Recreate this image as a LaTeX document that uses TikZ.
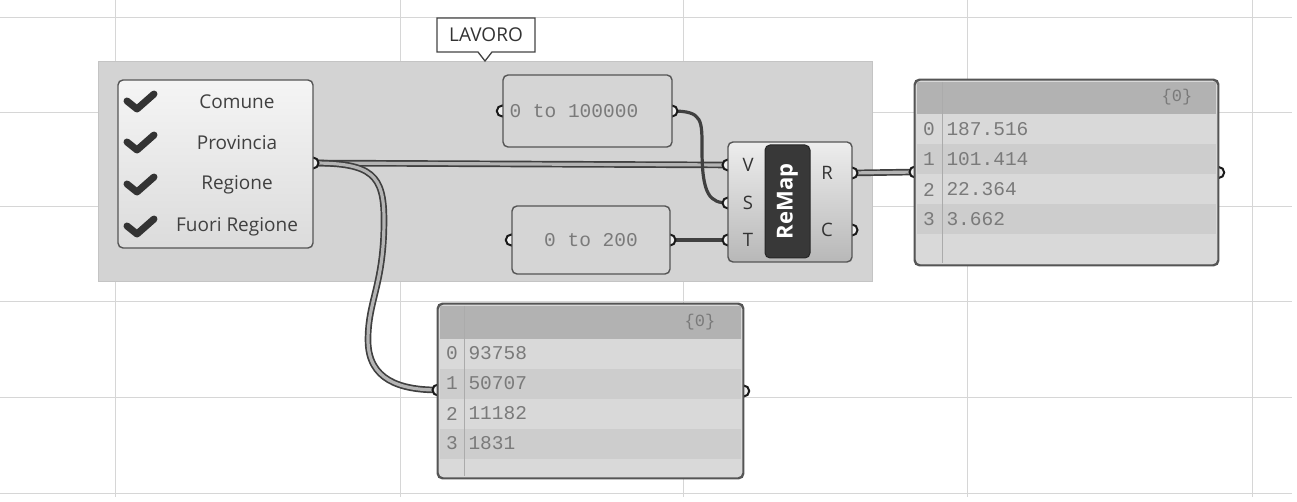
\documentclass[tikz,border=0pt]{standalone}
\usepackage{fontspec}
\setmainfont{Open Sans}
\newfontfamily\monof{Liberation Mono}
\usetikzlibrary{backgrounds}
\definecolor{gridc}{HTML}{D6D6D6}
\definecolor{groupc}{HTML}{D3D3D3}
\definecolor{groupb}{HTML}{C4C4C4}
\definecolor{edgec}{HTML}{555555}
\definecolor{wirec}{HTML}{404040}
\definecolor{wirein}{HTML}{B4B4B4}
\definecolor{paneltxt}{HTML}{7A7A7A}
\definecolor{hdrc}{HTML}{B2B2B2}
\definecolor{rowa}{HTML}{D9D9D9}
\definecolor{rowb}{HTML}{CDCDCD}
\definecolor{checkc}{HTML}{333333}
\tikzset{
  gridline/.style={gridc, line width=1pt},
  gbox/.style={draw=edgec, line width=1.4pt, rounded corners=5pt, inner sep=0pt},
  slider/.style={gbox, fill=groupc!95!white},
  panelbox/.style={gbox, fill=rowa},
  checkbox/.style={gbox, top color=white!96!black, bottom color=white!86!black},
  compbox/.style={gbox, top color=white!93!black, bottom color=white!72!black},
  corebox/.style={draw=black!85, fill=black!78, rounded corners=5pt, line width=1pt, inner sep=0pt},
  wire/.style={draw=wirec, line width=1.7pt, double=wirein, double distance=3.2pt},
  swire/.style={draw=wirec, line width=3.2pt},
  grip/.style={draw=black!90, fill=white!94!black, line width=2pt},
  itemtxt/.style={font=\fontsize{19}{19}\selectfont, text=black!75},
  porttxt/.style={font=\fontsize{18.5}{18.5}\selectfont, text=black!80},
  monotxt/.style={font=\monof\fontsize{19.5}{19.5}\selectfont, text=paneltxt},
  hdrtxt/.style={font=\monof\fontsize{17}{17}\selectfont, text=paneltxt},
  chk/.style={draw=checkc, line width=7pt, line cap=round, line join=round},
}
\begin{document}
\begin{tikzpicture}[x=1pt,y=-1pt]
\useasboundingbox (0,0) rectangle (1297,502);

% ---------- nodes ----------
\node[checkbox, minimum width=195pt, minimum height=168pt] (check) at (215.5,164) {};
\node[slider, minimum width=169pt, minimum height=72pt] (sl1) at (587.5,111) {};
\node[monotxt, anchor=west] (sl1t) at (506,111) {0 to 100000};
\node[slider, minimum width=158pt, minimum height=68pt] (sl2) at (591,240) {};
\node[monotxt] (sl2t) at (591,240) {0 to 200};
\node[compbox, minimum width=124pt, minimum height=120pt] (remap) at (790,202) {};
\node[corebox, minimum width=45pt, minimum height=113pt] (core) at (787.5,201.5) {};
\node[rotate=90, text=white, font=\bfseries\fontsize{22}{22}\selectfont] (coret) at (core) {ReMap};
\node[porttxt] (tV) at (748,165) {V};
\node[porttxt] (tS) at (748,203) {S};
\node[porttxt] (tT) at (748,240) {T};
\node[porttxt] (tR) at (827,173) {R};
\node[porttxt] (tC) at (827,230) {C};

% checklist items
\foreach \y/\t [count=\i] in {102/Comune,143/Provincia,185/Regione,227/Fuori Regione}{
  \node[itemtxt] (item\i) at (237,\y) {\t};
  \draw[chk] (127,\y-1) -- (137,\y+7) -- (154,\y-8);
}

% right panel
\node[panelbox, minimum width=303pt, minimum height=185pt] (outR) at (1066.5,172.5) {};
\fill[hdrc] (917,82) rectangle (1216,114);
\foreach \i in {0,...,3}{
  \pgfmathsetmacro\ya{114+30*\i}
  \ifodd\i \fill[rowb] (917,\ya) rectangle (1216,\ya+30); \else \fill[rowa] (917,\ya) rectangle (1216,\ya+30); \fi
}
\fill[rowa] (917,234) rectangle (1216,262);
\draw[gridc!80!black, line width=0.8pt] (942,82) -- (942,263);
\draw[edgec, line width=1.4pt, rounded corners=5pt] (outR.north west) rectangle (outR.south east);
\node[hdrtxt] (hR) at (1177,97) {\{0\}};
\foreach \v [count=\i from 0] in {187.516,101.414,22.364,3.662}{
  \node[monotxt] (iR\i) at (929,129.5+30*\i) {\i};
  \node[monotxt, anchor=west] (vR\i) at (943,129.5+30*\i) {\v};
}

% bottom panel
\node[panelbox, minimum width=305pt, minimum height=174pt] (outB) at (590.5,391) {};
\fill[hdrc] (440,306) rectangle (741,339);
\foreach \i in {0,...,3}{
  \pgfmathsetmacro\ya{339+30*\i}
  \ifodd\i \fill[rowb] (440,\ya) rectangle (741,\ya+30); \else \fill[rowa] (440,\ya) rectangle (741,\ya+30); \fi
}
\fill[rowa] (440,459) rectangle (741,476);
\draw[gridc!80!black, line width=0.8pt] (464,306) -- (464,476);
\draw[edgec, line width=1.4pt, rounded corners=5pt] (outB.north west) rectangle (outB.south east);
\node[hdrtxt] (hB) at (700,322) {\{0\}};
\foreach \v [count=\i from 0] in {93758,50707,11182,1831}{
  \node[monotxt] (iB\i) at (452,353.5+30*\i) {\i};
  \node[monotxt, anchor=west] (vB\i) at (465,353.5+30*\i) {\v};
}

% LAVORO label
\draw[edgec!80!black, fill=white, line width=1.3pt] (437,18) -- (535,18) -- (535,52) -- (492,52) -- (485,61) -- (478,52) -- (437,52) -- cycle;
\node[font=\fontsize{19}{19}\selectfont, text=black!80] (lavoro) at (486,35) {LAVORO};

% port coordinates
\coordinate (pV) at (728,165);
\coordinate (pS) at (728,203);
\coordinate (pT) at (728,240);
\coordinate (pR) at (852,173);
\coordinate (pC) at (852,230);
\coordinate (ck) at (313,163);
\coordinate (s1o) at (672,111);
\coordinate (s2o) at (670,240);
\coordinate (oRi) at (915,172);
\coordinate (oBi) at (438,390);

% ---------- background ----------
\begin{scope}[on background layer]
  \foreach \x in {115,400,683,967,1252} \draw[gridline] (\x,0) -- (\x,497);
  \foreach \y in {18,113,207,302,397,493} \draw[gridline] (0,\y) -- (1292,\y);
  \draw[groupb, fill=groupc, line width=1pt] (98,62) rectangle (872,282);
  % wires
  \draw[wire] (ck) -- (pV);
  \draw[wire] (ck) .. controls (372,163) and (384,175) .. (384,220)
                  .. controls (384,285) and (368,300) .. (368,340)
                  .. controls (368,380) and (400,390) .. (oBi);
  \draw[swire] (s1o) .. controls (703,111) and (702,120) .. (702,150)
                    .. controls (702,195) and (710,203) .. (pS);
  \draw[swire] (s2o) -- (pT);
  \draw[wire] (pR) -- (oRi);
  % grips
  \foreach \p in {ck,pV,pS,pT,pR,pC,s1o,s2o,oRi,oBi}{\draw[grip] (\p) circle (5.5pt);}
  \draw[grip] (sl1.west) circle (5.5pt);
  \draw[grip] (sl2.west) circle (5.5pt);
  \draw[grip] (outR.east) circle (5.5pt);
  \draw[grip] (outB.east) circle (5.5pt);
\end{scope}
\end{tikzpicture}
\end{document}
